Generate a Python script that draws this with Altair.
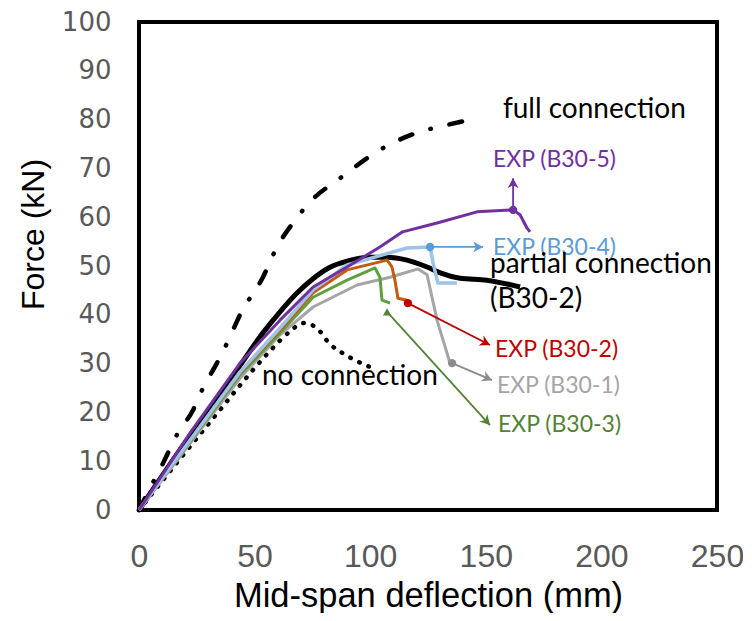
import math
import altair as alt
import pandas as pd

W, H = 578, 488
X_MAX, Y_MAX = 250, 100

# ---- curves (deflection mm, force kN) ----
full_x = [0, 6.1, 10.4, 16.4, 23.4, 27.7, 33.7, 38.5, 43.7, 53.6, 59.7, 66.6, 73.5, 87.0, 104.2, 120.2, 133.2, 147.5]
full_y = [0, 5.7, 9.6, 15.4, 20.5, 25.0, 30.1, 34.6, 40.0, 47.7, 53.9, 58.8, 62.9, 68.0, 73.8, 77.3, 78.9, 80.4]

partial_x = [0, 17.7, 39.4, 53.6, 61.0, 68.0, 75.0, 82.0, 90.0, 100.0, 107.3, 115.9, 124.6, 130.3, 138.9, 150.5, 164.8]
partial_y = [0, 12.3, 26.6, 36.3, 40.6, 44.3, 47.3, 49.6, 51.0, 51.8, 51.8, 51.2, 49.8, 48.6, 47.5, 47.1, 45.7]

none_x = [0, 12.5, 21.2, 30.7, 42.4, 49.3, 56.7, 65.3, 70.9, 76.1, 82.6, 90.0, 99.9]
none_y = [0, 7.4, 12.5, 18.0, 24.8, 28.7, 32.6, 36.6, 38.3, 37.6, 34.0, 31.6, 29.3]

purple_x = [0, 22.1, 43.7, 61.0, 75.3, 90.0, 104.2, 114.0, 128.9, 146.2, 161.8, 164.8, 167.8, 169.1]
purple_y = [0, 15.8, 30.1, 38.9, 45.7, 49.8, 53.9, 57.0, 58.8, 61.1, 61.5, 60.5, 57.8, 57.0]

lblue_x = [0, 43.7, 61.0, 75.3, 90.0, 115.9, 125.9, 127.2, 129.3, 137.5]
lblue_y = [0, 28.3, 37.3, 45.1, 50.2, 53.7, 53.9, 50.6, 46.5, 46.5]

orange_x = [0, 43.7, 61.0, 75.3, 90.0, 107.3, 109.4, 110.7, 112.0, 115.9]
orange_y = [0, 28.1, 36.9, 44.5, 49.2, 51.2, 49.8, 47.1, 43.4, 43.0]

green_x = [0, 43.7, 61.0, 75.3, 90.0, 102.1, 104.2, 105.1, 108.6]
green_y = [0, 27.7, 36.3, 43.6, 47.1, 49.6, 47.7, 43.0, 42.4]

gray_x = [0, 43.7, 61.0, 75.3, 94.3, 108.6, 120.7, 124.6, 128.9, 133.2, 134.5]
gray_y = [0, 27.0, 35.9, 41.6, 46.1, 47.7, 49.4, 48.2, 38.9, 32.2, 30.1]

# ---- arrows to EXP labels ----
arr_x0 = [161.8, 125.9, 116.3, 135.4, 107.3]
arr_y0 = [61.5, 53.9, 42.4, 30.1, 40.6]
arr_x1 = [161.8, 148.8, 151.8, 152.7, 151.8]
arr_y1 = [68.0, 53.9, 33.8, 26.6, 17.4]
arr_color = ["#7030A0", "#5B9BD5", "#C00000", "#8C8C8C", "#548235"]
arr_shape = ["circle", "circle", "circle", "circle", "triangle-up"]

exp_text = ["EXP (B30-5)", "EXP (B30-4)", "EXP (B30-2)", "EXP (B30-1)", "EXP (B30-3)"]
exp_x = [153.1, 153.1, 154.0, 154.8, 155.3]
exp_y = [71.7, 53.7, 32.8, 25.4, 17.4]
exp_color = ["#7030A0", "#5B9BD5", "#C00000", "#A5A5A5", "#548235"]

curve_text = ["full connection", "partial connection", "(B30-2)", "no connection"]
curve_tx = [157.4, 151.8, 151.8, 53.2]
curve_ty = [82.0, 50.2, 43.0, 27.3]

x_ticks = [0, 50, 100, 150, 200, 250]
y_ticks = [0, 10, 20, 30, 40, 50, 60, 70, 80, 90, 100]

xsc = alt.Scale(domain=[0, X_MAX], nice=False, zero=True)
ysc = alt.Scale(domain=[0, Y_MAX], nice=False, zero=True)

xaxis = alt.Axis(values=x_ticks, title="Mid-span deflection (mm)", grid=False, domain=False,
                 ticks=False, labelFont="Liberation Sans", labelFontSize=32, labelColor="#595959",
                 labelPadding=31, labelFlush=False, labelOverlap=False,
                 titleFont="Liberation Sans", titleFontSize=34.5, titleFontWeight="normal",
                 titleColor="black", titleBaseline="alphabetic", titleY=96)
yaxis = alt.Axis(values=y_ticks, title="Force (kN)", grid=False, domain=False, ticks=False,
                 labelFont="DejaVu Sans", labelFontSize=26, labelColor="#595959",
                 labelPadding=28, labelFlush=False, labelOverlap=False,
                 titleFont="Liberation Sans", titleFontSize=32, titleFontWeight="normal",
                 titleColor="black", titleAngle=270, titleBaseline="alphabetic",
                 titleAlign="center", titleX=-96, titleY=212)


def curve(xs, ys, color, width, dash=None, cap="butt", interp="linear"):
    df = pd.DataFrame({"x": xs, "y": ys, "i": list(range(len(xs)))})
    kw = dict(color=color, strokeWidth=width, strokeCap=cap, strokeJoin="round", interpolate=interp)
    if dash:
        kw["strokeDash"] = dash
    return alt.Chart(df).mark_line(**kw).encode(
        x=alt.X("x:Q", scale=xsc, axis=xaxis),
        y=alt.Y("y:Q", scale=ysc, axis=yaxis),
        order="i:Q",
    )


layers = [
    curve(full_x, full_y, "black", 4.5, dash=[13, 19, 0.5, 19], cap="round", interp="monotone"),
    curve(none_x, none_y, "black", 4.5, dash=[0.5, 9.5], cap="round", interp="monotone"),
    curve(partial_x, partial_y, "black", 5, interp="monotone"),
    curve(gray_x, gray_y, "#A5A5A5", 3),
    curve(green_x, green_y, "#609E3F", 3),
    curve(orange_x, orange_y, "#C55A11", 3),
    curve(lblue_x, lblue_y, "#9DC3E6", 3.5),
    curve(purple_x, purple_y, "#7030A0", 3),
]

# arrows
px_per_x = W / X_MAX
px_per_y = H / Y_MAX
angles = []
for a, b, c, d in zip(arr_x0, arr_y0, arr_x1, arr_y1):
    ang = math.degrees(math.atan2(-(d - b) * px_per_y, (c - a) * px_per_x)) % 360
    angles.append(ang)

arr_df = pd.DataFrame({"x0": arr_x0, "y0": arr_y0, "x1": arr_x1, "y1": arr_y1,
                       "c": arr_color, "s": arr_shape, "ang": angles})

rules = alt.Chart(arr_df).mark_rule(strokeWidth=1.8).encode(
    x=alt.X("x0:Q", scale=xsc, axis=xaxis), y=alt.Y("y0:Q", scale=ysc, axis=yaxis),
    x2="x1:Q", y2="y1:Q", color=alt.Color("c:N", scale=None))

heads = alt.Chart(arr_df).mark_point(
    shape="M0,0L-1,-0.55L-0.7,0L-1,0.55Z", filled=True, size=400, opacity=1).encode(
    x=alt.X("x1:Q", scale=xsc, axis=xaxis), y=alt.Y("y1:Q", scale=ysc, axis=yaxis),
    angle=alt.Angle("ang:Q", scale=None), color=alt.Color("c:N", scale=None))

starts = alt.Chart(arr_df).mark_point(filled=True, size=70, opacity=1).encode(
    x=alt.X("x0:Q", scale=xsc, axis=xaxis), y=alt.Y("y0:Q", scale=ysc, axis=yaxis),
    shape=alt.Shape("s:N", scale=None), color=alt.Color("c:N", scale=None))

exp_df = pd.DataFrame({"x": exp_x, "y": exp_y, "t": exp_text, "c": exp_color})
exp_labels = alt.Chart(exp_df).mark_text(align="left", baseline="middle", font="Lato",
                                         fontSize=23).encode(
    x=alt.X("x:Q", scale=xsc, axis=xaxis), y=alt.Y("y:Q", scale=ysc, axis=yaxis),
    text="t:N", color=alt.Color("c:N", scale=None))

cur_df = pd.DataFrame({"x": curve_tx, "y": curve_ty, "t": curve_text})
cur_labels = alt.Chart(cur_df).mark_text(align="left", baseline="middle", font="Lato",
                                         fontSize=28, color="black").encode(
    x=alt.X("x:Q", scale=xsc, axis=xaxis), y=alt.Y("y:Q", scale=ysc, axis=yaxis), text="t:N")

chart = alt.layer(*layers, rules, heads, starts, exp_labels, cur_labels).properties(
    width=W, height=H,
    autosize=alt.AutoSizeParams(type="none"),
    padding={"left": 131, "top": 14, "right": 26, "bottom": 103},
    background="white",
).configure_view(stroke="black", strokeWidth=4)

chart.save("out.html", embed_options={"renderer": "svg", "actions": False})
